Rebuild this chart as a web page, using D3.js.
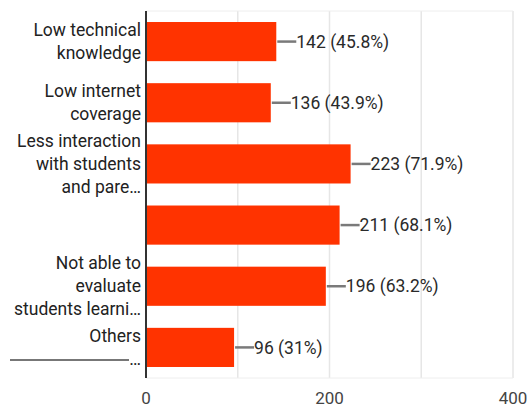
<!DOCTYPE html>
<html>
<head>
<meta charset="utf-8">
<script src="https://cdn.jsdelivr.net/npm/d3@7"></script>
<style>
  html, body { margin: 0; padding: 0; background: #fff; }
  svg { display: block; font-family: Roboto, "Noto Sans", sans-serif; }
</style>
</head>
<body>
<svg id="chart" width="529" height="408"></svg>
<script>
// Survey responses: problems faced in online teaching
const categoryLines = [
  ["Low technical", "knowledge"],
  ["Low internet", "coverage"],
  ["Less interaction", "with students", "and pare\u2026"],
  [""],
  ["Not able to", "evaluate", "students learni\u2026"],
  ["Others", "\u2026"]
];
const counts = [142, 136, 223, 211, 196, 96];
const percents = ["45.8%", "43.9%", "71.9%", "68.1%", "63.2%", "31%"];
const xTicks = [0, 200, 400];
const gridTicks = [100, 200, 300, 400];

const svg = d3.select("#chart");
const margin = { top: 11, left: 146 };
const bottomY = 378;

const x = d3.scaleLinear().domain([0, 400]).range([margin.left, 513]);
const y = d3.scaleBand()
  .domain(d3.range(counts.length))
  .range([margin.top, bottomY])
  .paddingInner(0.36)
  .paddingOuter(0.18);

// gridlines
svg.append("g").selectAll("line").data(gridTicks).join("line")
  .attr("x1", d => x(d)).attr("x2", d => x(d))
  .attr("y1", margin.top).attr("y2", bottomY)
  .attr("stroke", "#e6e6e6").attr("stroke-width", 1.5);
svg.append("line").attr("x1", x(0)).attr("x2", x(400))
  .attr("y1", margin.top).attr("y2", margin.top)
  .attr("stroke", "#eeeeee").attr("stroke-width", 1);
svg.append("line").attr("x1", x(0)).attr("x2", x(400))
  .attr("y1", bottomY).attr("y2", bottomY)
  .attr("stroke", "#eeeeee").attr("stroke-width", 1);

// bars
svg.append("g").selectAll("rect").data(counts).join("rect")
  .attr("x", x(0))
  .attr("y", (d, i) => y(i))
  .attr("width", d => x(d) - x(0))
  .attr("height", y.bandwidth())
  .attr("fill", "#ff3300");

// value leaders and labels
const vals = svg.append("g").selectAll("g").data(counts).join("g");
vals.append("line")
  .attr("x1", d => x(d) + 1).attr("x2", d => x(d) + 20)
  .attr("y1", (d, i) => y(i) + y.bandwidth() / 2)
  .attr("y2", (d, i) => y(i) + y.bandwidth() / 2)
  .attr("stroke", "#7a7a7a").attr("stroke-width", 2.5);
vals.append("text")
  .attr("x", d => x(d) + 20)
  .attr("y", (d, i) => y(i) + y.bandwidth() / 2)
  .attr("dy", "0.35em")
  .attr("font-size", 17.5)
  .attr("fill", "#2a2a2a")
  .text((d, i) => `${d} (${percents[i]})`);

// y axis line
svg.append("line").attr("x1", x(0)).attr("x2", x(0))
  .attr("y1", margin.top).attr("y2", bottomY)
  .attr("stroke", "#333").attr("stroke-width", 2);

// category labels (multi-line, right aligned)
const lineH = 23;
const labels = svg.append("g").selectAll("text").data(categoryLines).join("text")
  .attr("text-anchor", "end")
  .attr("font-size", 17.5)
  .attr("fill", "#222")
  .attr("y", (d, i) => y(i) + y.bandwidth() / 2 - (d.length - 1) * lineH / 2);
labels.each(function(d) {
  d3.select(this).selectAll("tspan").data(d).join("tspan")
    .attr("x", margin.left - 5)
    .attr("dy", (t, j) => j === 0 ? "0.35em" : lineH)
    .text(t => t);
});
// the wrapped "Others" entry trails off into a long rule before its ellipsis
const last = categoryLines.length - 1;
const ruleY = y(last) + y.bandwidth() / 2 + lineH / 2 + 1;
svg.append("line")
  .attr("x1", 10).attr("x2", 129)
  .attr("y1", ruleY).attr("y2", ruleY)
  .attr("stroke", "#777").attr("stroke-width", 2);

// x axis tick labels
svg.append("g").selectAll("text").data(xTicks).join("text")
  .attr("x", d => x(d))
  .attr("y", 398)
  .attr("dy", "0.35em")
  .attr("text-anchor", "middle")
  .attr("font-size", 17)
  .attr("fill", "#444")
  .text(d => d);
</script>
</body>
</html>
